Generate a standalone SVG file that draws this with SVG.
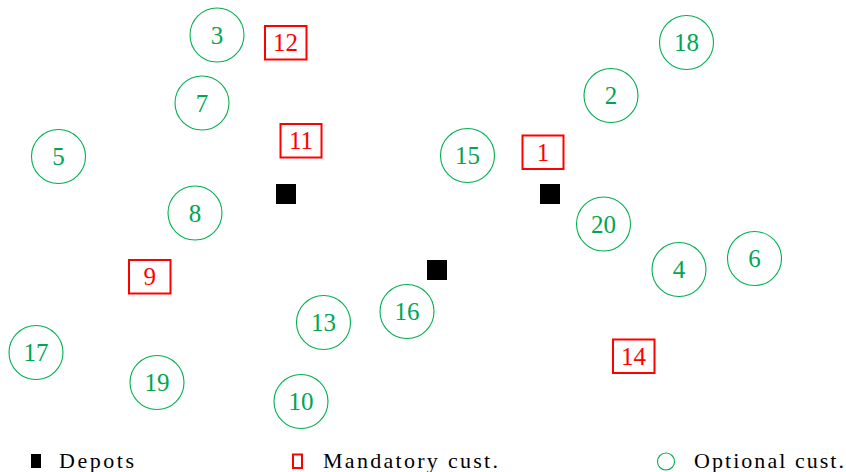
<svg xmlns="http://www.w3.org/2000/svg" width="846" height="472" viewBox="0 0 846 472">
<style>
.opt circle{fill:none;stroke:#00b050;stroke-width:1.1}
.opt text{fill:#00a651}
.man rect{fill:none;stroke:#ff0000;stroke-width:2}
.man text{fill:#ff0000}
text{font-family:"Liberation Serif","DejaVu Serif",serif;font-size:25px;text-anchor:middle}
.dep{fill:#000}
.leg text{font-size:22px;text-anchor:start;fill:#000}
</style>
<rect width="846" height="472" fill="#fff"/>
<g id="depots">
<rect id="depot-a" class="dep" x="276" y="184" width="20" height="20"/>
<rect id="depot-b" class="dep" x="540" y="184" width="20" height="20"/>
<rect id="depot-c" class="dep" x="427" y="260" width="20" height="20"/>
</g>
<g id="n3" class="opt"><circle cx="217" cy="35" r="27"/><text x="217" y="43.5">3</text></g>
<g id="n7" class="opt"><circle cx="202" cy="103" r="27"/><text x="202" y="111.5">7</text></g>
<g id="n5" class="opt"><circle cx="58.5" cy="156.5" r="27"/><text x="58.5" y="165">5</text></g>
<g id="n8" class="opt"><circle cx="195" cy="213" r="27"/><text x="195" y="221.5">8</text></g>
<g id="n17" class="opt"><circle cx="36" cy="352.5" r="27"/><text x="36" y="361">17</text></g>
<g id="n19" class="opt"><circle cx="157" cy="382.5" r="27"/><text x="157" y="391">19</text></g>
<g id="n13" class="opt"><circle cx="323.5" cy="322.5" r="27"/><text x="323.5" y="331">13</text></g>
<g id="n10" class="opt"><circle cx="301" cy="401.5" r="27"/><text x="301" y="410">10</text></g>
<g id="n15" class="opt"><circle cx="467.5" cy="155.5" r="27"/><text x="467.5" y="164">15</text></g>
<g id="n16" class="opt"><circle cx="407" cy="311.5" r="27"/><text x="407" y="320">16</text></g>
<g id="n18" class="opt"><circle cx="686.5" cy="42.5" r="27"/><text x="686.5" y="51">18</text></g>
<g id="n2" class="opt"><circle cx="611" cy="95.5" r="27"/><text x="611" y="104">2</text></g>
<g id="n20" class="opt"><circle cx="603.5" cy="224" r="27"/><text x="603.5" y="232.5">20</text></g>
<g id="n4" class="opt"><circle cx="679" cy="269.5" r="27"/><text x="679" y="278">4</text></g>
<g id="n6" class="opt"><circle cx="754.5" cy="258.5" r="27"/><text x="754.5" y="267">6</text></g>
<g id="n12" class="man"><rect x="265" y="26" width="41.5" height="33.5"/><text x="285.5" y="51">12</text></g>
<g id="n11" class="man"><rect x="280.5" y="124" width="41" height="33.5"/><text x="301" y="149">11</text></g>
<g id="n9" class="man"><rect x="129" y="260" width="41.5" height="33.5"/><text x="149.8" y="285">9</text></g>
<g id="n1" class="man"><rect x="522.5" y="135.5" width="41" height="33.5"/><text x="543" y="161">1</text></g>
<g id="n14" class="man"><rect x="613" y="339.5" width="41.5" height="33.5"/><text x="633.5" y="365">14</text></g>
<g id="connectors"></g>
<g id="legend" class="leg">
<rect x="31" y="454" width="10" height="14" fill="#000"/>
<text x="59" y="468" textLength="75" lengthAdjust="spacing">Depots</text>
<rect x="293" y="454.5" width="9" height="13.5" fill="none" stroke="#ff0000" stroke-width="2"/>
<text x="323" y="468" textLength="175" lengthAdjust="spacing">Mandatory cust.</text>
<circle cx="666" cy="461.5" r="8.5" fill="none" stroke="#00b050" stroke-width="1.1"/>
<text x="694" y="468" textLength="150" lengthAdjust="spacing">Optional cust.</text>
</g>
</svg>
